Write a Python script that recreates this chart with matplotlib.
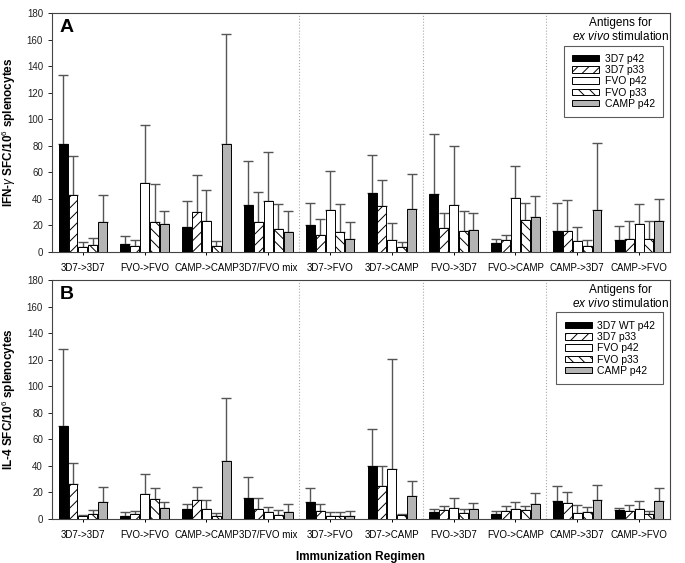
import matplotlib
matplotlib.use('Agg')
import matplotlib.pyplot as plt
import numpy as np

plt.rcParams['font.family'] = ['Liberation Sans', 'DejaVu Sans']
plt.rcParams['hatch.linewidth'] = 0.7
plt.rcParams['mathtext.fontset'] = 'custom'
plt.rcParams['mathtext.rm'] = 'Liberation Sans'
plt.rcParams['mathtext.it'] = 'Liberation Sans:italic'
plt.rcParams['mathtext.bf'] = 'Liberation Sans:bold'

groups = ['3D7->3D7', 'FVO->FVO', 'CAMP->CAMP', '3D7/FVO mix', '3D7->FVO',
          '3D7->CAMP', 'FVO->3D7', 'FVO->CAMP', 'CAMP->3D7', 'CAMP->FVO']

# Panel A: IFN-gamma (mean, upper error bar top)
ifn_3d7_p42 = [81, 6, 19, 35.5, 20, 44.8, 43.5, 6.8, 16, 9.3]
ifn_3d7_p42_top = [133, 12, 38.7, 68.5, 37, 73, 89, 10, 36.7, 19.6]
ifn_3d7_p33 = [42.8, 4.8, 30, 22.6, 13, 34.7, 18, 9.3, 16, 10]
ifn_3d7_p33_top = [72.5, 9.3, 58, 45, 24.5, 54.3, 29.4, 12.8, 39, 23.6]
ifn_fvo_p42 = [3.8, 52, 23, 38.5, 32, 9.3, 35.5, 40.8, 8, 21.4]
ifn_fvo_p42_top = [7.3, 96, 47, 75.5, 61, 21.6, 80, 65, 18.6, 36]
ifn_fvo_p33 = [5, 22.6, 4.5, 17, 15, 4, 15.6, 24.4, 4.5, 10]
ifn_fvo_p33_top = [10.8, 51, 8, 36, 36, 7.5, 31, 37.2, 9.3, 23.6]
ifn_camp_p42 = [22.4, 21, 81.5, 15, 10, 32.2, 16.4, 26, 32, 23]
ifn_camp_p42_top = [43, 31, 164, 31, 22.6, 59, 29.2, 42, 82, 40]

# Panel B: IL-4
il4_3d7_p42 = [70, 2.5, 7.5, 15.5, 13, 40, 5, 3.8, 13.5, 6.5]
il4_3d7_p42_top = [128, 5.3, 11.5, 31.8, 23.5, 67.4, 7.5, 5.8, 24.6, 8.5]
il4_3d7_p33 = [26.6, 3.5, 14, 7.8, 6, 24.5, 7, 6.3, 12, 5.8]
il4_3d7_p33_top = [42, 6, 24, 15.8, 11, 40, 10, 9.5, 20.3, 10.5]
il4_fvo_p42 = [2.3, 18.8, 7.5, 5, 2.5, 38, 8.3, 7.5, 4.5, 7.5]
il4_fvo_p42_top = [3, 33.8, 14.5, 8.8, 5, 120.3, 15.8, 13, 10.5, 13.3]
il4_fvo_p33 = [3.8, 14.8, 2.5, 3.3, 2.3, 3.3, 4.5, 7, 5.5, 3.8]
il4_fvo_p33_top = [7, 23.3, 4.8, 7, 5.3, 4, 7.5, 9.8, 9, 6.3]
il4_camp_p42 = [13, 8.5, 43.9, 5.5, 2, 17.3, 7.5, 11.5, 14.5, 13.8]
il4_camp_p42_top = [24.3, 12.5, 91, 11.3, 5.8, 28.6, 11.8, 19.5, 25.6, 23.3]

labels_a = ['3D7 p42', '3D7 p33', 'FVO p42', 'FVO p33', 'CAMP p42']
labels_b = ['3D7 WT p42', '3D7 p33', 'FVO p42', 'FVO p33', 'CAMP p42']

styles = [dict(color='black', hatch=None),
          dict(color='white', hatch='///'),
          dict(color='white', hatch=None),
          dict(color='white', hatch='\\\\\\'),
          dict(color='#b4b4b4', hatch=None)]

fig = plt.figure(figsize=(6.85, 5.63), dpi=100)
ax_a = fig.add_axes([0.0759, 0.5524, 0.9021, 0.4245])
ax_b = fig.add_axes([0.0759, 0.0782, 0.9021, 0.4245])

x = np.arange(len(groups)) + 0.5
width = 0.145
pitch = 0.16


def draw(ax, means, tops, labels, ylabel, letter):
    handles = []
    for i in range(5):
        xs = x + (i - 2) * pitch
        m = np.array(means[i])
        err = np.array(tops[i]) - m
        b = ax.bar(xs, m, width, color=styles[i]['color'], hatch=styles[i]['hatch'],
                   edgecolor='black', linewidth=0.7, label=labels[i], zorder=3)
        ax.errorbar(xs, m, yerr=[np.zeros_like(err), err], fmt='none',
                    ecolor='#555555', elinewidth=1.0, capsize=3.5, capthick=1.0, zorder=2)
        handles.append(b)
    for v in [4, 6, 8]:
        ax.axvline(v, color='#aaaaaa', linestyle=':', linewidth=0.8, zorder=1)
    ax.set_xlim(0, 10)
    ax.set_ylim(0, 180)
    ax.set_yticks(range(0, 181, 20))
    ax.set_xticks(x)
    ax.set_xticklabels(groups, fontsize=7)
    ax.tick_params(axis='y', labelsize=7, length=3, width=0.7, colors='#222222')
    ax.tick_params(axis='x', length=2, width=0.7, pad=6)
    for s in ax.spines.values():
        s.set_color('#444444')
        s.set_linewidth(0.8)
    ax.set_ylabel(ylabel, fontsize=8.5, fontweight='bold', labelpad=6)
    ax.text(0.12, 169, letter, fontsize=14, fontweight='bold', va='center')
    ax.text(9.2, 172.5, 'Antigens for', fontsize=8.5, ha='center', va='center')
    ax.text(9.2, 162.5, r'$\it{ex\ vivo}$ stimulation', fontsize=8.5, ha='center', va='center')
    leg = ax.legend(handles=handles, loc='upper right', bbox_to_anchor=(0.989, 0.864),
                    fontsize=7.5, frameon=True, fancybox=False, edgecolor='#333333',
                    handlelength=2.6, handleheight=0.6, labelspacing=0.12,
                    handletextpad=0.5, borderpad=0.8, borderaxespad=0)
    leg.get_frame().set_linewidth(0.8)


draw(ax_a,
     [ifn_3d7_p42, ifn_3d7_p33, ifn_fvo_p42, ifn_fvo_p33, ifn_camp_p42],
     [ifn_3d7_p42_top, ifn_3d7_p33_top, ifn_fvo_p42_top, ifn_fvo_p33_top, ifn_camp_p42_top],
     labels_a, r'IFN-$\gamma$ SFC/10$^6$ splenocytes', 'A')
draw(ax_b,
     [il4_3d7_p42, il4_3d7_p33, il4_fvo_p42, il4_fvo_p33, il4_camp_p42],
     [il4_3d7_p42_top, il4_3d7_p33_top, il4_fvo_p42_top, il4_fvo_p33_top, il4_camp_p42_top],
     labels_b, r'IL-4 SFC/10$^6$ splenocytes', 'B')
ax_b.set_xlabel('Immunization Regimen', fontsize=8.5, fontweight='bold', labelpad=8)

plt.savefig('out.png', dpi=100)
